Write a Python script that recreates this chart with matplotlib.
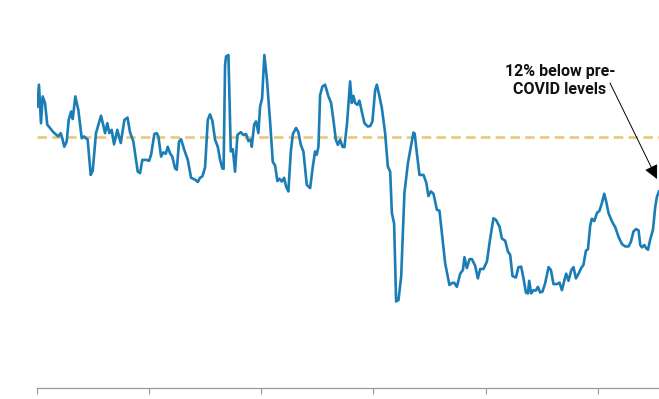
import numpy as np
import matplotlib.pyplot as plt

# time in decimal years, value as index (pre-COVID level = 100)
years = [2017.006, 2017.021, 2017.039, 2017.054, 2017.075, 2017.095, 2017.119, 2017.149, 2017.193, 2017.215,
         2017.229, 2017.247, 2017.268, 2017.286, 2017.307, 2017.322, 2017.345, 2017.372, 2017.402, 2017.422,
         2017.455, 2017.482, 2017.500, 2017.529, 2017.574, 2017.610, 2017.630, 2017.648, 2017.669, 2017.690,
         2017.719, 2017.750, 2017.782, 2017.810, 2017.832, 2017.862, 2017.901, 2017.922, 2017.942, 2017.981,
         2018.002, 2018.020, 2018.049, 2018.070, 2018.085, 2018.109, 2018.129, 2018.151, 2018.168, 2018.189,
         2018.209, 2018.234, 2018.249, 2018.269, 2018.287, 2018.316, 2018.347, 2018.376, 2018.412, 2018.436,
         2018.456, 2018.477, 2018.501, 2018.525, 2018.545, 2018.566, 2018.590, 2018.614, 2018.635, 2018.655,
         2018.666, 2018.679, 2018.688, 2018.709, 2018.730, 2018.748, 2018.768, 2018.789, 2018.819, 2018.842,
         2018.866, 2018.887, 2018.908, 2018.917, 2018.938, 2018.955, 2018.976, 2018.991, 2019.009, 2019.029,
         2019.051, 2019.080, 2019.104, 2019.125, 2019.145, 2019.163, 2019.185, 2019.205, 2019.223, 2019.243,
         2019.265, 2019.283, 2019.312, 2019.332, 2019.354, 2019.377, 2019.407, 2019.437, 2019.461, 2019.481,
         2019.496, 2019.511, 2019.526, 2019.546, 2019.570, 2019.600, 2019.624, 2019.644, 2019.666, 2019.684,
         2019.704, 2019.725, 2019.742, 2019.766, 2019.793, 2019.808, 2019.823, 2019.838, 2019.858, 2019.876,
         2019.897, 2019.921, 2019.951, 2019.972, 2019.992, 2020.016, 2020.031, 2020.052, 2020.076, 2020.105,
         2020.129, 2020.150, 2020.165, 2020.185, 2020.203, 2020.224, 2020.248, 2020.277, 2020.308, 2020.337,
         2020.357, 2020.368, 2020.388, 2020.411, 2020.447, 2020.471, 2020.491, 2020.512, 2020.536, 2020.566,
         2020.589, 2020.611, 2020.640, 2020.678, 2020.700, 2020.720, 2020.744, 2020.774, 2020.798, 2020.812,
         2020.833, 2020.857, 2020.878, 2020.907, 2020.931, 2020.952, 2020.981, 2021.012, 2021.041, 2021.070,
         2021.094, 2021.124, 2021.145, 2021.175, 2021.199, 2021.219, 2021.240, 2021.270, 2021.293, 2021.317,
         2021.338, 2021.359, 2021.377, 2021.389, 2021.406, 2021.427, 2021.448, 2021.466, 2021.487, 2021.507,
         2021.531, 2021.561, 2021.582, 2021.605, 2021.636, 2021.659, 2021.680, 2021.703, 2021.718, 2021.739,
         2021.763, 2021.783, 2021.805, 2021.828, 2021.852, 2021.872, 2021.894, 2021.912, 2021.932, 2021.947,
         2021.968, 2021.992, 2022.015, 2022.036, 2022.057, 2022.075, 2022.095, 2022.126, 2022.155, 2022.185,
         2022.215, 2022.244, 2022.274, 2022.295, 2022.318, 2022.342, 2022.363, 2022.378, 2022.393, 2022.414,
         2022.431, 2022.447, 2022.467, 2022.491, 2022.512, 2022.527, 2022.545]
values = [106.4, 111.1, 102.9, 108.6, 107.2, 102.6, 101.9, 101.0, 100.1, 100.8,
          99.7, 97.9, 99.0, 103.6, 105.4, 103.8, 108.6, 105.7, 99.7, 100.1,
          99.4, 91.9, 92.8, 100.8, 104.5, 100.8, 102.9, 100.8, 101.5, 98.4,
          101.5, 98.7, 103.6, 104.1, 101.0, 99.0, 92.6, 92.3, 95.1, 95.1,
          94.9, 96.2, 100.6, 100.8, 100.1, 95.8, 96.7, 96.4, 97.9, 96.5,
          95.8, 93.3, 93.0, 99.0, 99.5, 97.2, 95.1, 91.3, 90.9, 90.4,
          91.3, 91.6, 93.5, 103.6, 104.8, 103.4, 99.4, 97.9, 95.1, 93.3,
          93.2, 115.3, 117.1, 117.4, 96.9, 97.4, 92.6, 100.4, 101.0, 100.4,
          100.6, 99.1, 99.4, 97.9, 102.6, 103.3, 100.8, 106.4, 108.2, 117.4,
          112.5, 103.3, 94.7, 93.9, 90.6, 91.1, 90.5, 91.3, 89.4, 88.4,
          96.9, 100.6, 101.9, 101.0, 98.3, 96.9, 89.8, 89.1, 93.7, 96.9,
          96.2, 97.9, 108.9, 110.7, 111.1, 108.6, 107.2, 103.6, 99.4, 98.3,
          99.4, 97.9, 97.8, 102.9, 111.8, 107.2, 108.7, 107.2, 106.8, 107.7,
          105.4, 102.9, 102.2, 102.3, 103.3, 109.9, 111.1, 108.9, 106.1, 100.8,
          93.7, 92.6, 83.8, 81.6, 65.0, 65.3, 70.3, 88.1, 94.4, 98.3,
          100.9, 100.7, 96.5, 91.9, 91.9, 90.3, 87.4, 88.4, 87.9, 84.5,
          84.3, 79.5, 73.1, 68.5, 68.9, 69.0, 68.1, 70.9, 71.7, 74.4,
          72.1, 74.0, 74.0, 72.6, 69.9, 71.9, 71.9, 73.5, 78.4, 82.7,
          82.3, 80.9, 78.4, 77.9, 75.6, 74.9, 70.4, 70.1, 72.3, 72.4,
          69.9, 66.9, 66.7, 69.4, 66.7, 67.4, 67.3, 68.1, 66.9, 67.1,
          68.9, 72.3, 71.7, 68.7, 68.7, 69.0, 67.4, 69.6, 70.9, 69.4,
          71.6, 72.3, 69.9, 70.9, 72.1, 72.8, 75.8, 76.1, 81.1, 82.6,
          82.1, 83.8, 84.3, 85.9, 87.9, 86.2, 83.8, 82.0, 80.8, 78.7,
          77.2, 76.7, 76.7, 77.7, 79.9, 80.4, 80.1, 77.0, 76.5, 77.0,
          76.3, 76.0, 78.2, 80.2, 85.2, 87.3, 88.4]
pre_covid = 100
tick_years = [2017, 2018, 2019, 2020, 2021, 2022]

fig = plt.figure(figsize=(6.59, 3.99), dpi=100)
ax = fig.add_axes([36.6 / 659, 11 / 399, 1 - 36.6 / 659, 388 / 399])

ax.axhline(pre_covid, color="#eac878", lw=1.9, linestyle=(0, (3.6, 2.0)), zorder=1)
ax.plot(years, values, color="#1a7db5", lw=1.9, zorder=2)

ax.set_xlim(2017, years[-1])
ax.set_ylim(46.6, 129.1)

ax.set_xticks(tick_years)
ax.set_xticklabels([])
ax.set_yticks([])
ax.tick_params(axis="x", direction="out", length=4.3, width=0.8, color="#999999")
for side in ["left", "top", "right"]:
    ax.spines[side].set_visible(False)
ax.spines["bottom"].set_color("#999999")
ax.spines["bottom"].set_linewidth(0.9)

# callout
ax.text(0.841, 0.7925, "12% below pre-\nCOVID levels", transform=ax.transAxes,
        ha="center", va="center", fontsize=11.5, fontweight="bold",
        family=["Liberation Sans Narrow", "Roboto", "DejaVu Sans"], linespacing=1.25,
        color="#111111")
ax.annotate("", xy=(0.9968, 0.5387), xycoords="axes fraction",
            xytext=(0.9213, 0.786), textcoords="axes fraction",
            arrowprops=dict(arrowstyle="-|>,head_length=0.6,head_width=0.3", color="black",
                            lw=0.7, shrinkA=0, shrinkB=0, mutation_scale=14))

fig.savefig("out.png", dpi=100)
